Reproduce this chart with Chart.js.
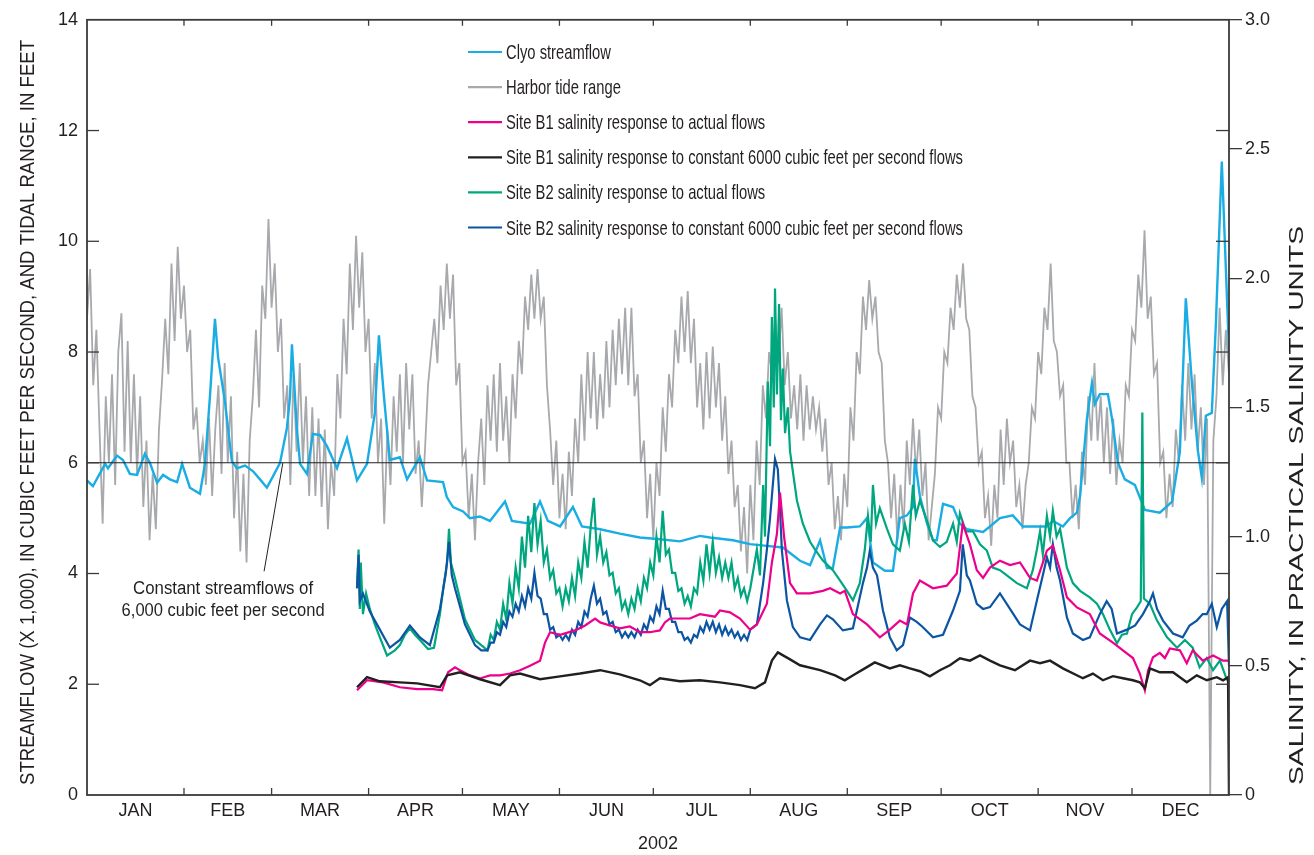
<!DOCTYPE html>
<html>
<head>
<meta charset="utf-8">
<script src="https://cdn.jsdelivr.net/npm/chart.js@4.4.1/dist/chart.umd.min.js"></script>
<style>
  html, body { margin: 0; padding: 0; background: #fff; }
  #wrap { width: 1314px; height: 855px; }
</style>
</head>
<body>
<div id="wrap"><canvas id="chart" width="1314" height="855"></canvas></div>
<script>
// ---- data (x = day of year 2002, 0 = Jan 1) ----
const monthNames = ['JAN','FEB','MAR','APR','MAY','JUN','JUL','AUG','SEP','OCT','NOV','DEC'];
const monthStarts = [0,31,59,90,120,151,181,212,243,273,304,334,365];
const flowTicks = [0,2,4,6,8,10,12,14];
const salinityTicks = [0,0.5,1,1.5,2,2.5,3];
const constantFlow = 6;

// Harbor tide range, feet, one value per day
const tideRange = [
  8.6,9.5,7.4,8.4,6.6,4.9,7.2,6.0,7.6,5.6,8.0,
  8.7,6.2,8.2,6.0,7.6,5.8,7.2,5.2,6.4,4.6,
  5.8,4.8,6.6,7.5,8.6,7.6,9.6,8.2,9.9,8.6,
  9.2,8.0,8.4,6.6,7.0,6.0,6.4,5.6,6.8,5.4,
  6.6,7.4,5.8,7.8,6.0,7.2,5.0,6.2,4.4,5.8,
  4.2,6.4,7.2,8.4,7.0,9.2,8.6,10.4,8.8,9.6,
  8.0,8.6,6.8,7.4,5.6,7.6,6.2,7.8,6.0,7.2,
  5.4,7.0,5.4,6.8,5.2,6.6,4.8,6.0,5.4,7.6,
  6.8,8.6,7.6,9.6,8.4,10.1,8.8,9.8,8.0,8.6,
  6.8,7.8,6.0,6.8,4.9,6.6,5.6,7.2,6.2,7.6,
  6.0,7.8,6.6,7.6,5.8,6.4,5.2,6.2,7.4,8.0,
  8.6,7.8,9.2,8.4,9.6,8.6,9.4,7.4,7.8,6.0,
  6.2,5.0,5.8,4.6,6.0,6.8,5.6,7.4,6.4,7.6,
  6.2,7.8,6.4,7.2,6.0,7.6,6.8,8.2,7.6,9.0,
  8.4,9.4,8.6,9.5,8.6,9.0,7.4,6.6,5.6,6.4,
  5.0,5.8,4.8,6.2,5.4,6.8,6.0,7.6,6.4,8.0,
  6.8,8.0,6.6,7.6,6.8,8.2,7.0,8.4,7.4,8.6,
  7.6,8.8,7.4,8.8,7.2,7.6,6.0,6.4,5.0,5.8,
  4.6,6.0,5.4,7.0,6.2,7.6,7.0,8.4,7.8,9.0,
  8.0,9.1,7.8,8.6,7.0,7.8,6.6,8.0,6.8,8.1,
  7.0,7.8,6.4,7.2,5.8,6.4,5.2,5.6,4.4,5.2,
  4.0,5.6,4.6,6.4,5.6,7.4,6.8,8.0,7.6,8.6,
  7.8,8.8,7.4,8.0,6.8,7.4,6.6,7.6,6.4,7.4,
  6.6,7.2,6.6,7.0,6.2,6.8,5.6,6.0,4.8,5.4,
  4.6,5.8,5.2,7.0,6.4,8.0,7.6,9.0,8.4,9.3,
  8.6,9.0,8.0,7.8,6.4,6.0,5.0,5.8,4.6,5.6,
  4.8,6.4,5.6,6.8,5.8,6.6,5.4,6.0,4.6,5.2,
  5.8,7.0,6.8,8.0,7.8,8.8,8.4,9.4,8.8,9.6,
  8.6,8.4,7.2,7.0,6.0,6.2,5.0,5.4,4.5,5.6,
  5.0,6.6,5.6,6.8,6.0,6.4,5.2,5.6,4.8,5.6,
  6.0,7.0,6.8,8.0,7.6,8.8,8.4,9.6,8.2,8.0,
  7.2,7.4,6.0,6.0,5.0,5.6,4.8,6.2,5.6,7.2,
  6.4,7.8,6.4,7.2,6.0,7.0,5.8,6.8,5.6,6.4,
  6.0,7.4,7.2,8.4,8.2,9.4,8.8,10.2,8.6,9.0,
  7.6,7.8,6.0,6.2,5.0,5.8,5.2,6.6,6.0,7.4,
  6.4,7.8,6.6,7.6,6.2,7.0,5.6,6.8,0,6.4,
  7.2,8.8,7.4,8.4,7.6
];

// Clyo streamflow, x 1,000 cubic feet per second
const clyoDays = [0,1.9,5.8,6.7,9.6,11.5,13.7,16,18.5,20.1,22.4,24.3,26.5,28.8,30.4,32.9,36.1,37.7,39.3,40.9,41.9,44.1,46.3,47.9,50.5,53,55.3,57.5,59.4,61.7,63.9,64.9,65.5,67.1,68.1,70.3,72.2,74.5,76.7,79.9,83.1,86.3,89.5,92,93.3,94.9,96.8,100,102.3,106.4,108.7,113.8,115,117,120.2,122.4,125.6,128.8,133.6,135.8,141.6,144.8,147.3,151.2,155.3,158.2,164,170.3,176.7,183.1,189.5,195.9,199.1,206.5,211.9,217.3,222.4,227.9,231.1,234.3,236.5,238.4,240.7,242.9,247,249.3,251.2,255,257.6,259.8,262.1,264,264.6,266.2,268.5,270.4,271.6,273.6,276.8,279,281.2,286.4,288.6,291.8,295.9,299.1,302.3,306.8,308.7,311.9,314.2,316.4,317.4,319.6,321.2,322.1,323.7,326.3,327.6,329.5,331.7,334.9,338.1,342.9,346.8,349.3,351.2,353.2,355.1,356.3,357.6,359.5,360.8,362.7,364,365];
const clyoFlow = [5.68,5.58,5.98,5.9,6.13,6.05,5.8,5.78,6.16,6.0,5.64,5.78,5.7,5.65,5.98,5.55,5.44,5.98,7.2,8.6,7.9,7.1,6.03,5.9,5.95,5.85,5.7,5.55,5.75,6.0,6.63,7.2,8.14,6.6,5.98,5.8,6.52,6.5,6.3,5.9,6.44,5.68,5.98,6.9,8.3,7.2,6.05,6.1,5.7,6.1,5.68,5.65,5.38,5.2,5.12,5.0,5.03,4.95,5.3,4.95,4.9,5.3,4.95,4.85,5.2,4.85,4.8,4.72,4.65,4.62,4.58,4.68,4.65,4.6,4.53,4.5,4.47,4.23,4.15,4.6,4.1,4.1,4.83,4.83,4.85,5.0,4.2,4.05,4.05,5.0,5.05,5.2,6.07,5.4,4.9,4.6,4.6,5.26,5.2,4.9,4.8,4.75,4.85,5.0,5.05,4.85,4.85,4.85,4.95,4.85,5.0,5.1,5.4,6.8,7.44,7.06,7.24,7.24,6.8,6.0,5.7,5.6,5.15,5.1,5.3,6.2,8.97,7.4,6.2,5.73,6.85,6.9,8.5,11.44,9.5,8.0];

// Site B1 salinity, actual flows (practical salinity units)
const b1ActualDays = [86.3,89.5,94.6,100,105.5,110.6,113.5,115.4,117.6,119.2,122.4,125.6,128.8,132,135.2,138.4,141.6,144.8,146.4,148,151.2,156,159.2,162.4,164,167.1,170.3,173.5,176.7,179.9,183.1,184.7,186.3,189.5,192.7,195.9,200.7,202.3,205.5,208.7,211.9,214.1,217.3,218.9,220.5,221.5,222.8,224.7,226.9,231.1,235.2,237.5,240.7,242.2,244.8,249.3,253.4,256.6,259.8,262.1,264,266.2,270.4,274.8,278,279.9,282.2,284.4,286.4,288.6,291.8,295,298.2,301.4,303.6,306.8,308.7,311,313.2,316.4,320.5,323.7,327.9,331.1,334.3,336.5,338.1,339.1,340.7,342.9,344.5,346.1,349.3,351.5,353.4,356.6,359.9,363.1,364.7];
const b1Actual = [0.405,0.444,0.436,0.417,0.41,0.41,0.405,0.475,0.494,0.483,0.463,0.451,0.463,0.463,0.47,0.483,0.5,0.52,0.59,0.63,0.62,0.637,0.656,0.683,0.668,0.656,0.645,0.652,0.63,0.63,0.637,0.668,0.683,0.683,0.683,0.7,0.69,0.714,0.707,0.683,0.64,0.66,0.74,0.9,1.01,1.17,1.0,0.82,0.78,0.78,0.79,0.8,0.78,0.79,0.7,0.66,0.61,0.64,0.675,0.66,0.78,0.83,0.8,0.81,0.857,1.05,0.97,0.87,0.84,0.88,0.907,0.89,0.9,0.84,0.83,0.946,0.965,0.87,0.765,0.726,0.7,0.625,0.59,0.56,0.53,0.47,0.405,0.48,0.533,0.55,0.53,0.567,0.56,0.51,0.56,0.52,0.54,0.52,0.52];

// Site B1 salinity, constant 6000 cfs
const b1ConstDays = [86.3,89.5,93.6,100,105.5,112.8,115.1,119.2,125.6,132,135.2,138.4,144.8,151.2,157.6,164,170.3,176.7,179.9,183.1,189.5,195.9,202.3,208.7,213.5,216.7,218.9,220.8,224.7,227.9,234.3,239.1,242.2,245.4,248.6,251.8,256.6,259.8,263,266.2,269.4,272.6,275.8,279,282.2,285.4,288.6,291.8,296.6,301.4,304.6,307.8,311.9,318.3,321.5,324.7,327.9,331.1,334.3,336.5,338.1,339.7,342.9,347.1,351.5,354.7,357.9,361.1,363.1,364.7,365];
const b1Const = [0.417,0.456,0.44,0.436,0.432,0.417,0.463,0.475,0.448,0.425,0.463,0.47,0.448,0.459,0.47,0.483,0.467,0.444,0.425,0.452,0.44,0.444,0.436,0.425,0.413,0.436,0.52,0.552,0.525,0.502,0.483,0.463,0.444,0.467,0.49,0.513,0.49,0.502,0.49,0.479,0.459,0.483,0.502,0.529,0.52,0.54,0.52,0.502,0.483,0.52,0.51,0.52,0.49,0.452,0.47,0.444,0.46,0.452,0.444,0.436,0.413,0.49,0.475,0.475,0.436,0.463,0.444,0.456,0.444,0.456,0];

// Site B2 salinity, actual flows
const b2ActualDays = [86.3,86.8,87.2,87.5,88.2,89.2,90.4,92,93.6,95.9,98.4,100,101.6,103.2,104.8,106.4,109,110.9,112.8,114.1,115.1,115.7,116.3,117.6,120.8,124,126,
  128,129,130,131,132,133,134,135,136,137,138,139,140,141,142,143,144,145,146,147,148,149,150,151,152,153,154,155,156,157,158,159,160,161,162,163,164,165,166,167,168,169,170,
  171,172,173,174,175,176,177,178,179,180,181,182,183,184,185,186,187,188,189,190,191,192,193,194,195,196,197,198,199,200,201,202,203,204,205,206,207,208,209,210,211,212,
  214.1,215.1,216.1,216.7,217.6,218.3,218.9,219.5,219.9,220.5,221.2,221.8,222.4,223.1,224,224.7,226.9,228.8,231.1,232.7,235.2,238.4,240.7,242.9,244.8,247,248.6,249.6,250.5,251.2,252.2,253.4,255.7,257.6,259.8,261.4,262.7,264,264.9,266.2,268.5,270.4,272.6,274.8,276.8,278,279,280.9,283.2,285.4,287.6,289.5,291.8,294,297.2,300.4,302.3,303.6,304.6,305.5,306.8,307.8,308.7,309.9,311,313.2,315.1,317.4,320.5,322.8,324.7,326.9,329.2,330.8,332.4,334,335.6,336.8,337.3,337.8,339.7,342,345.2,348.4,350.9,353.4,355.6,357.9,359.9,362.1,364.4];
const b2Actual = [0.8,0.95,0.72,0.9,0.7,0.78,0.72,0.66,0.61,0.54,0.56,0.58,0.62,0.645,0.62,0.6,0.565,0.57,0.7,0.82,0.9,1.03,0.9,0.84,0.68,0.6,0.58,
  0.56,0.62,0.6,0.67,0.64,0.74,0.68,0.82,0.74,0.88,0.8,1.0,0.88,1.08,0.94,1.13,0.97,1.06,0.9,0.95,0.84,0.87,0.78,0.8,0.73,0.8,0.75,0.84,0.77,0.9,0.84,0.98,0.88,1.04,1.15,0.93,1.0,0.9,0.94,0.85,0.86,0.78,0.8,
  0.72,0.75,0.7,0.76,0.72,0.8,0.75,0.84,0.8,0.9,0.85,1.0,0.9,1.1,0.93,0.95,0.86,0.86,0.79,0.8,0.74,0.77,0.73,0.8,0.78,0.9,0.83,0.97,0.86,0.98,0.86,0.92,0.84,0.9,0.84,0.9,0.8,0.84,0.77,0.8,0.75,0.8,
  0.95,0.85,1.2,1.0,1.6,1.35,1.85,1.5,1.96,1.55,1.9,1.45,1.65,1.4,1.5,1.33,1.14,1.05,0.98,0.95,0.907,0.87,0.83,0.79,0.753,0.82,0.95,1.08,0.98,1.2,1.05,1.11,1.03,0.97,0.946,1.05,0.98,1.2,1.08,1.14,1.06,0.985,0.96,0.98,1.05,0.98,1.09,1.02,1.02,0.97,0.946,0.88,0.87,0.85,0.82,0.8,0.87,0.95,1.02,0.93,1.08,1.0,1.1,1.0,1.03,0.88,0.82,0.79,0.765,0.74,0.7,0.64,0.587,0.62,0.625,0.7,0.726,0.75,1.48,0.76,0.74,0.675,0.61,0.57,0.6,0.57,0.494,0.53,0.483,0.52,0.444];

// Site B2 salinity, constant 6000 cfs
const b2ConstDays = [86.3,86.8,87.2,88.2,90.4,93.6,96.8,100,103.2,106.4,109.6,112.8,114.7,115.7,116.6,117.6,120.8,124,126,
  128,129,130,131,132,133,134,135,136,137,138,139,140,141,142,143,144,145,146,147,148,149,150,151,152,153,154,155,156,157,158,159,160,161,162,163,164,165,166,167,168,169,170,
  171,172,173,174,175,176,177,178,179,180,181,182,183,184,185,186,187,188,189,190,191,192,193,194,195,196,197,198,199,200,201,202,203,204,205,206,207,208,209,210,211,212,
  214.1,216.1,217.3,218.3,219.2,219.9,220.8,221.5,222.1,223.7,225.6,227.9,231.1,234.3,236.5,238.4,241.6,244.8,248,249.3,250.2,251.2,252.5,254.4,256.6,258.8,260.8,263,265.2,267.1,270.4,273.6,276.8,279,279.9,281.2,282.2,284.4,286.4,288.6,291.8,295,298.2,301.4,303.6,305.5,306.8,307.8,308.7,309.9,311,313.2,315.1,318.3,320.5,323.7,325.9,327.5,329.2,332.4,335,337.5,339.7,340.7,342,343.9,347.1,350.2,352.4,354.7,356.6,357.9,359.5,361.1,362.7,364.4,365];
const b2Const = [0.8,0.93,0.75,0.78,0.71,0.64,0.57,0.6,0.656,0.61,0.58,0.72,0.86,0.98,0.85,0.8,0.66,0.58,0.56,
  0.56,0.59,0.59,0.63,0.62,0.67,0.65,0.71,0.69,0.74,0.71,0.77,0.73,0.8,0.76,0.86,0.77,0.76,0.7,0.7,0.64,0.65,0.61,0.62,0.6,0.62,0.6,0.64,0.62,0.67,0.65,0.71,0.69,0.76,0.81,0.74,0.76,0.7,0.71,0.66,0.67,0.63,0.64,
  0.61,0.63,0.61,0.63,0.61,0.64,0.62,0.66,0.64,0.69,0.67,0.73,0.7,0.79,0.72,0.72,0.67,0.67,0.63,0.63,0.6,0.61,0.59,0.62,0.61,0.65,0.63,0.67,0.64,0.67,0.63,0.66,0.62,0.65,0.62,0.64,0.61,0.63,0.6,0.62,0.6,0.64,
  0.66,0.82,0.95,1.07,1.2,1.3,1.26,1.1,0.946,0.753,0.65,0.61,0.6,0.66,0.695,0.68,0.637,0.645,0.82,0.88,0.946,0.88,0.85,0.714,0.61,0.56,0.58,0.687,0.67,0.65,0.61,0.62,0.714,0.79,0.97,0.85,0.83,0.74,0.72,0.727,0.78,0.72,0.66,0.637,0.753,0.85,0.92,0.88,0.97,0.88,0.83,0.687,0.625,0.6,0.61,0.7,0.75,0.72,0.625,0.64,0.656,0.7,0.75,0.78,0.72,0.675,0.625,0.61,0.656,0.675,0.7,0.7,0.74,0.65,0.72,0.75,0.5];

const legendLabels = [
  'Clyo streamflow',
  'Harbor tide range',
  'Site B1 salinity response to actual flows',
  'Site B1 salinity response to constant 6000 cubic feet per second flows',
  'Site B2 salinity response to actual flows',
  'Site B2 salinity response to constant 6000 cubic feet per second flows'
];
const noteLines = ['Constant streamflows of', '6,000 cubic feet per second'];
const leftTitle = 'STREAMFLOW (X 1,000), IN CUBIC FEET PER SECOND, AND TIDAL RANGE, IN FEET';
const rightTitle = 'SALINITY, IN PRACTICAL SALINITY UNITS';

const colors = ['#1aade4', '#a7a9ac', '#ec008c', '#231f20', '#00a67e', '#0b55a3'];
const FONT = "'Liberation Sans Narrow', 'Liberation Sans', Arial, sans-serif";

function pts(xs, ys) { return ys.map((v, i) => ({ x: xs[i], y: v })); }
const tideDays = tideRange.map((v, i) => i);

// text squeezed horizontally to a target width (the original uses a condensed face)
function squeezed(ctx, str, x, y, size, width, align, angle) {
  ctx.save();
  ctx.font = size + 'px ' + FONT;
  const sx = width ? width / ctx.measureText(str).width : 1;
  ctx.translate(x, y);
  if (angle) ctx.rotate(angle);
  ctx.scale(sx, 1);
  ctx.textAlign = align;
  ctx.textBaseline = 'alphabetic';
  ctx.fillStyle = '#231f20';
  ctx.fillText(str, 0, 0);
  ctx.restore();
}

function seg(ctx, x1, y1, x2, y2) {
  ctx.beginPath(); ctx.moveTo(x1, y1); ctx.lineTo(x2, y2); ctx.stroke();
}

const decor = {
  id: 'decor',
  afterDatasetsDraw(chart) {
    const { ctx, chartArea: a } = chart;
    const x = chart.scales.x, y = chart.scales.y;
    ctx.save();
    ctx.strokeStyle = '#231f20';

    // 6,000 cfs reference line
    ctx.lineWidth = 1.2;
    const y6 = y.getPixelForValue(constantFlow);
    seg(ctx, a.left, y6, a.right, y6);
    // leader to note
    ctx.lineWidth = 1;
    seg(ctx, x.getPixelForValue(56.6), y.getPixelForValue(4.04), x.getPixelForValue(62.6), y6);
    squeezed(ctx, noteLines[0], x.getPixelForValue(43.5), y.getPixelForValue(3.63), 18, 180, 'center');
    squeezed(ctx, noteLines[1], x.getPixelForValue(43.5), y.getPixelForValue(3.24), 18, 203, 'center');

    // frame
    ctx.strokeStyle = '#3a3a3a';
    ctx.lineWidth = 1.8;
    ctx.strokeRect(a.left, a.top, a.right - a.left, a.bottom - a.top);

    // month boundary ticks, inside, top and bottom
    ctx.lineWidth = 1.3;
    monthStarts.slice(1, -1).forEach(d => {
      const px = x.getPixelForValue(d);
      seg(ctx, px, a.bottom, px, a.bottom - 7);
      seg(ctx, px, a.top, px, a.top + 6);
    });
    // flow ticks, inside on both sides
    flowTicks.slice(1, -1).forEach(v => {
      const py = y.getPixelForValue(v);
      seg(ctx, a.left, py, a.left + 12, py);
      seg(ctx, a.right - 13, py, a.right, py);
    });

    // legend
    ctx.font = '21px ' + FONT;
    const longest = Math.max(...legendLabels.map(s => ctx.measureText(s).width));
    const sx = 457 / longest;
    legendLabels.forEach((lab, i) => {
      const ly = 52 + i * 35.1;
      ctx.strokeStyle = colors[i];
      ctx.lineWidth = 2.2;
      seg(ctx, 468, ly, 502, ly);
      ctx.save();
      ctx.translate(506, ly + 7);
      ctx.scale(sx, 1);
      ctx.fillStyle = '#231f20';
      ctx.textAlign = 'left';
      ctx.fillText(lab, 0, 0);
      ctx.restore();
    });

    // axis titles, both reading upward
    squeezed(ctx, leftTitle, 33.5, (40 + 785) / 2, 20, 745, 'center', -Math.PI / 2);
    squeezed(ctx, rightTitle, 1303, (226 + 785) / 2, 20, 559, 'center', -Math.PI / 2);
    ctx.restore();
  }
};

const lineDs = (label, data, color, axis, order, width) => ({
  label, data, borderColor: color, backgroundColor: color, yAxisID: axis,
  order, borderWidth: width, pointRadius: 0, tension: 0, fill: false
});

new Chart(document.getElementById('chart'), {
  type: 'line',
  data: {
    datasets: [
      lineDs(legendLabels[0], pts(clyoDays, clyoFlow), colors[0], 'y', 5, 2.4),
      lineDs(legendLabels[1], pts(tideDays, tideRange), colors[1], 'y', 6, 1.8),
      lineDs(legendLabels[2], pts(b1ActualDays, b1Actual), colors[2], 'y2', 2, 2.2),
      lineDs(legendLabels[3], pts(b1ConstDays, b1Const), colors[3], 'y2', 1, 2.4),
      lineDs(legendLabels[4], pts(b2ActualDays, b2Actual), colors[4], 'y2', 4, 2.2),
      lineDs(legendLabels[5], pts(b2ConstDays, b2Const), colors[5], 'y2', 3, 2.2)
    ]
  },
  options: {
    responsive: false,
    animation: false,
    devicePixelRatio: 1,
    layout: { padding: { top: 18, left: 0, right: 0, bottom: 0 } },
    plugins: { legend: { display: false }, tooltip: { enabled: false } },
    scales: {
      x: {
        type: 'linear', position: 'bottom', min: 0, max: 365,
        afterBuildTicks: s => { s.ticks = monthStarts.slice(0, 12).map((d, i) => ({ value: (d + monthStarts[i + 1]) / 2 })); },
        afterFit: s => { s.height = 60; },
        grid: { display: false, drawTicks: false, tickLength: 0 },
        border: { display: false },
        ticks: {
          autoSkip: false, maxRotation: 0, padding: 5, color: '#231f20',
          font: { family: FONT, size: 18 },
          callback: (v, i) => monthNames[i]
        },
        title: { display: true, text: '2002', color: '#231f20', font: { family: FONT, size: 18 }, padding: { top: 0, bottom: 0 } }
      },
      y: {
        position: 'left', min: 0, max: 14,
        afterBuildTicks: s => { s.ticks = flowTicks.map(v => ({ value: v })); },
        afterFit: s => { s.width = 87; },
        grid: { display: false, drawTicks: false, tickLength: 0 },
        border: { display: false },
        ticks: { padding: 9, color: '#231f20', font: { family: FONT, size: 18 } }
      },
      y2: {
        position: 'right', min: 0, max: 3,
        afterBuildTicks: s => { s.ticks = salinityTicks.map(v => ({ value: v })); },
        afterFit: s => { s.width = 85; },
        grid: { display: true, drawOnChartArea: false, drawTicks: true, tickLength: 13, color: '#3a3a3a', lineWidth: 1.3 },
        border: { display: false },
        ticks: { padding: 3, color: '#231f20', font: { family: FONT, size: 18 },
          callback: v => v === 0 ? '0' : v.toFixed(1) }
      }
    }
  },
  plugins: [decor]
});
</script>
</body>
</html>
